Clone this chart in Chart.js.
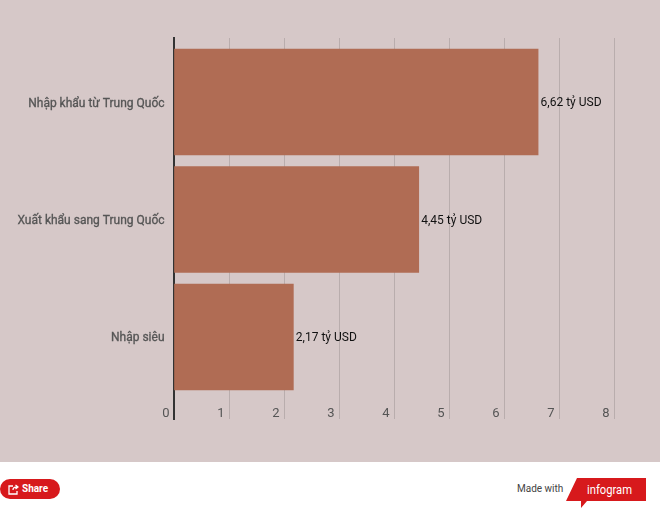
<!DOCTYPE html>
<html>
<head>
<meta charset="utf-8">
<script src="https://cdn.jsdelivr.net/npm/chart.js@4"></script>
<style>
    html, body { margin: 0; padding: 0; background: #fff; font-family: Roboto, sans-serif; }
    #wrap { position: relative; width: 660px; height: 510px; overflow: hidden; }
    #plot { position: absolute; left: 0; top: 0; width: 660px; height: 462px; background: #d6c8c8; }
    #share { position: absolute; left: 0; top: 479px; width: 60px; height: 20px; border-radius: 10px; background: #d7191c; color: #fff; font-size: 10px; font-weight: 700; line-height: 20px; }
    #share span { position: absolute; left: 22px; }
    #share svg { position: absolute; left: 8px; top: 5px; }
    #made { position: absolute; left: 517px; top: 483px; font-size: 10px; color: #444; }
    #logo { position: absolute; left: 566px; top: 478px; }
</style>
</head>
<body>
<div id="wrap">
    <div id="plot"><canvas id="chart" width="660" height="462"></canvas></div>
    <div id="share">
        <svg width="11" height="11" viewBox="0 0 11 11"><path d="M5 2H1v8h8V7M5 6c0-2 1-3 4-3M7.500 1l2.500 2-2.500 2" fill="none" stroke="#fff" stroke-width="1.300"/></svg>
        <span>Share</span>
    </div>
    <div id="made">Made with</div>
    <svg id="logo" width="81" height="31" viewBox="0 0 81 31">
        <path d="M11 0H80V23H21L15 30V23H0Z" fill="#d7191c"/>
        <text x="21" y="16" font-family="Roboto" font-size="13" fill="#fff" textLength="45" lengthAdjust="spacingAndGlyphs">infogram</text>
    </svg>
</div>
<script>
const categories = ['Nhập khẩu từ Trung Quốc', 'Xuất khẩu sang Trung Quốc', 'Nhập siêu'];
const values = [6.62, 4.45, 2.17];
const valueLabels = ['6,62 tỷ USD', '4,45 tỷ USD', '2,17 tỷ USD'];

// Draws the value text just past the end of each bar
const barLabels = {
    id: 'barLabels',
    afterDatasetsDraw(chart) {
        const ctx = chart.ctx;
        ctx.save();
        ctx.font = '12px Roboto';
        ctx.fillStyle = '#111';
        ctx.textAlign = 'left';
        ctx.textBaseline = 'middle';
        chart.getDatasetMeta(0).data.forEach((bar, i) => {
            ctx.fillText(valueLabels[i], bar.x + 2.5, bar.y + 1);
        });
        ctx.restore();
    }
};

new Chart(document.getElementById('chart'), {
    type: 'bar',
    data: {
        datasets: [{
            data: values.map((v, i) => ({ x: v, y: i })),
            backgroundColor: '#b06c54',
            barThickness: 106
        }]
    },
    options: {
        indexAxis: 'y',
        responsive: false,
        animation: false,
        layout: { padding: { left: 0, top: 38, right: 46, bottom: 43 } },
        plugins: { legend: { display: false }, tooltip: { enabled: false } },
        scales: {
            x: {
                type: 'linear',
                min: 0,
                max: 8,
                afterFit(scale) { scale.height = 0; },
                grid: { color: '#b9adad', drawTicks: false },
                border: { display: false },
                ticks: {
                    stepSize: 1,
                    mirror: true,
                    padding: -3,
                    labelOffset: -8,
                    maxRotation: 0,
                    color: '#555',
                    font: { family: 'Roboto', size: 13 }
                }
            },
            y: {
                type: 'linear',
                offset: false,
                reverse: true,
                min: -0.545,
                max: 2.698,
                afterFit(scale) { scale.width = 174; },
                afterBuildTicks(scale) { scale.ticks = categories.map((c, i) => ({ value: i })); },
                grid: { display: false, drawTicks: false, offset: false },
                border: { color: '#333', width: 2 },
                ticks: {
                    padding: 9.5,
                    labelOffset: 1.5,
                    color: '#555',
                    textStrokeColor: '#555',
                    textStrokeWidth: 0.3,
                    font: { family: 'Roboto', size: 12 },
                    callback: value => categories[value]
                }
            }
        }
    },
    plugins: [barLabels]
});
</script>
</body>
</html>
